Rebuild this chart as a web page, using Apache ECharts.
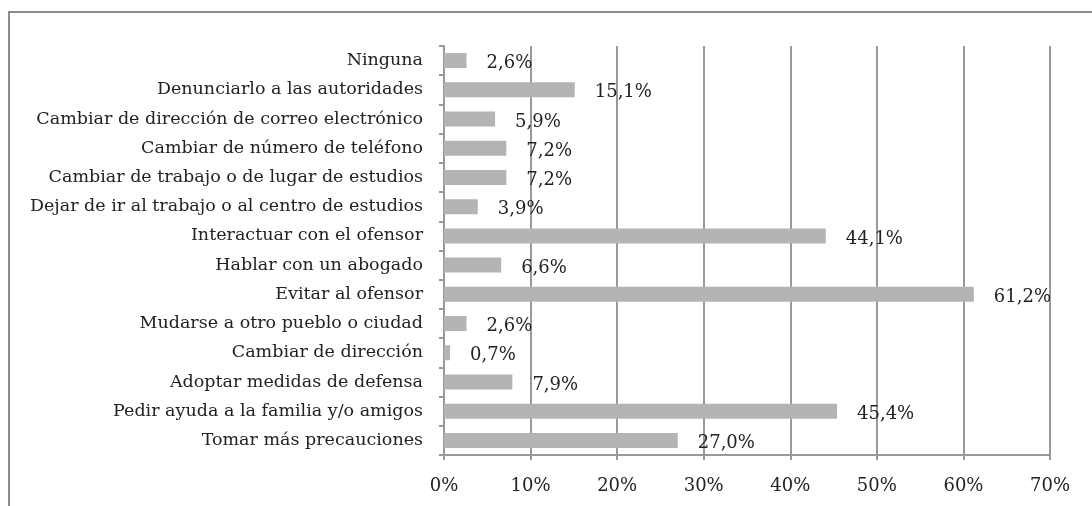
<!DOCTYPE html>
<html lang="es" style="height: 100%">
<head>
  <meta charset="utf-8">
</head>
<body style="height: 100%; margin: 0; background: #fff">
  <div id="container" style="width: 1092px; height: 506px"></div>
  <script type="text/javascript" src="https://cdn.jsdelivr.net/npm/echarts@6/dist/echarts.min.js"></script>
  <script type="text/javascript">
    // categories, top to bottom as in the picture
    var categories = [
      'Ninguna',
      'Denunciarlo a las autoridades',
      'Cambiar de dirección de correo electrónico',
      'Cambiar de número de teléfono',
      'Cambiar de trabajo o de lugar de estudios',
      'Dejar de ir al trabajo o al centro de estudios',
      'Interactuar con el ofensor',
      'Hablar con un abogado',
      'Evitar al ofensor',
      'Mudarse a otro pueblo o ciudad',
      'Cambiar de dirección',
      'Adoptar medidas de defensa',
      'Pedir ayuda a la familia y/o amigos',
      'Tomar más precauciones'
    ];
    var values = [2.6, 15.1, 5.9, 7.2, 7.2, 3.9, 44.1, 6.6, 61.2, 2.6, 0.7, 7.9, 45.4, 27.0];
    var xTicks = [0, 10, 20, 30, 40, 50, 60, 70];

    var font = 'DejaVu Serif';
    var dom = document.getElementById('container');
    var myChart = echarts.init(dom, null, { renderer: 'canvas' });

    var option = {
      animation: false,
      backgroundColor: '#fff',
      textStyle: { fontFamily: font },
      graphic: [
        {
          type: 'rect',
          shape: { x: 9, y: 12, width: 1200, height: 600 },
          style: { fill: 'none', stroke: '#8c8c8c', lineWidth: 2 },
          silent: true
        }
      ],
      grid: { left: 444, right: 42, top: 46, bottom: 51, containLabel: false },
      xAxis: {
        type: 'value',
        min: xTicks[0],
        max: xTicks[xTicks.length - 1],
        interval: 10,
        axisLine: { show: true, lineStyle: { color: '#999', width: 2 } },
        axisTick: { show: true, length: 5, lineStyle: { color: '#999', width: 2 } },
        splitLine: { show: true, lineStyle: { color: '#999', width: 2 } },
        axisLabel: {
          color: '#222',
          fontFamily: font,
          fontSize: 18,
          margin: 22,
          formatter: function (v) { return v + '%'; }
        }
      },
      yAxis: {
        type: 'category',
        data: categories,
        inverse: true,
        axisLine: { show: true, lineStyle: { color: '#999', width: 2 } },
        axisTick: { show: true, length: 5, lineStyle: { color: '#999', width: 2 } },
        axisLabel: {
          color: '#222',
          fontFamily: font,
          fontSize: 17.5,
          margin: 21
        }
      },
      series: [
        {
          type: 'bar',
          data: values,
          barWidth: 15,
          itemStyle: { color: '#b4b4b4' },
          label: {
            show: true,
            position: 'right',
            distance: 20,
            offset: [0, 3],
            color: '#222',
            fontFamily: font,
            fontSize: 18,
            formatter: function (p) {
              return p.value.toFixed(1).replace('.', ',') + '%';
            }
          }
        }
      ]
    };

    myChart.setOption(option);
    window.addEventListener('resize', myChart.resize);
  </script>
</body>
</html>
